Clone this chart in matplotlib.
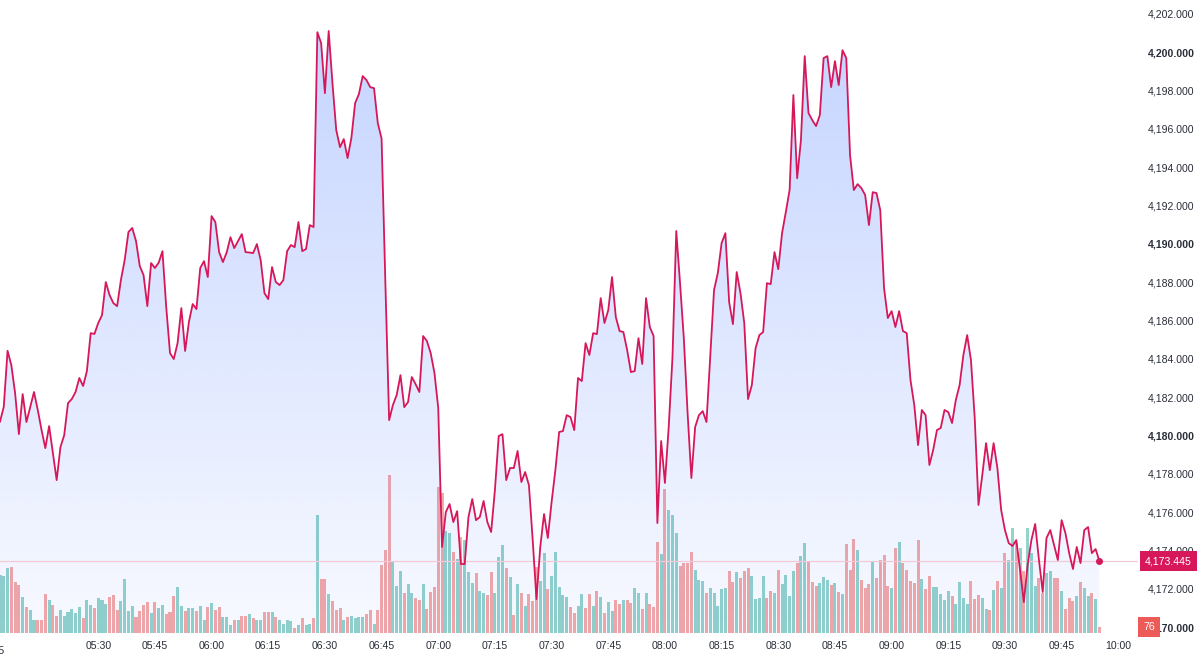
import numpy as np
import matplotlib
matplotlib.use("Agg")
import matplotlib.pyplot as plt
from matplotlib.transforms import blended_transform_factory

# one bar / one price per minute, first one at 05:04
start_minute = 5 * 60 + 4

price = [
    4180.72, 4181.50, 4184.42, 4183.67, 4182.21, 4180.07, 4182.16, 4180.70, 4181.48, 4182.27,
    4181.33, 4180.28, 4179.34, 4180.49, 4179.08, 4177.67, 4179.39, 4180.02, 4181.69, 4181.90,
    4182.27, 4183.00, 4182.58, 4183.36, 4185.34, 4185.30, 4185.87, 4186.28, 4188.01, 4187.33,
    4186.91, 4186.75, 4188.11, 4189.15, 4190.62, 4190.83, 4190.15, 4188.84, 4188.37, 4186.75,
    4189.00, 4188.74, 4189.02, 4189.62, 4186.70, 4184.30, 4183.99, 4184.82, 4186.65, 4184.41,
    4185.92, 4186.86, 4186.60, 4188.74, 4189.10, 4188.27, 4191.45, 4191.14, 4189.57, 4189.05,
    4189.55, 4190.35, 4189.78, 4190.15, 4190.51, 4189.57, 4189.55, 4189.52, 4189.99, 4189.15,
    4187.43, 4187.12, 4188.79, 4188.01, 4187.85, 4188.11, 4189.62, 4189.94, 4189.83, 4191.14,
    4189.62, 4189.73, 4190.98, 4190.88, 4201.05, 4200.48, 4197.87, 4201.11, 4198.39, 4195.94,
    4195.05, 4195.47, 4194.48, 4195.52, 4197.35, 4197.82, 4198.76, 4198.55, 4198.18, 4198.13,
    4196.30, 4195.50, 4188.00, 4180.80, 4181.59, 4182.11, 4183.15, 4181.48, 4181.74, 4183.05,
    4182.68, 4182.27, 4185.19, 4184.93, 4184.30, 4183.26, 4181.43, 4174.18, 4176.00, 4176.42,
    4175.48, 4176.05, 4173.29, 4173.29, 4175.74, 4176.68, 4175.58, 4175.74, 4176.58, 4175.48,
    4174.96, 4177.15, 4179.97, 4180.07, 4177.67, 4178.30, 4178.30, 4179.19, 4177.57, 4178.09,
    4177.41, 4174.54, 4171.46, 4174.18, 4175.90, 4174.65, 4176.52, 4178.19, 4180.18, 4180.23,
    4181.06, 4180.96, 4180.28, 4183.00, 4182.84, 4184.82, 4184.20, 4185.34, 4185.29, 4187.17,
    4185.87, 4186.54, 4188.27, 4186.18, 4185.45, 4185.40, 4184.46, 4183.31, 4183.36, 4185.08,
    4183.73, 4187.17, 4185.66, 4185.19, 4175.43, 4179.71, 4177.52, 4180.44, 4184.09, 4190.67,
    4187.95, 4185.08, 4181.17, 4177.78, 4180.44, 4181.06, 4181.27, 4180.70, 4184.14, 4187.59,
    4188.48, 4190.04, 4190.56, 4186.96, 4185.81, 4188.53, 4187.43, 4185.87, 4181.90, 4182.63,
    4184.56, 4185.24, 4185.40, 4187.95, 4187.90, 4189.57, 4188.68, 4190.56, 4191.66, 4192.81,
    4197.77, 4193.43, 4195.42, 4199.80, 4196.83, 4196.46, 4196.15, 4196.72, 4199.70, 4199.80,
    4198.18, 4199.54, 4198.29, 4200.11, 4199.70, 4194.63, 4192.81, 4193.12, 4192.91, 4192.55,
    4190.98, 4192.70, 4192.65, 4191.76, 4187.69, 4186.13, 4186.49, 4185.66, 4186.49, 4185.45,
    4185.34, 4182.89, 4181.59, 4179.50, 4181.33, 4181.06, 4178.46, 4179.24, 4180.28, 4180.39,
    4181.33, 4181.22, 4180.65, 4181.85, 4182.63, 4184.20, 4185.24, 4183.94, 4180.91, 4176.37,
    4177.93, 4179.60, 4178.19, 4179.60, 4178.30, 4176.11, 4175.06, 4174.38, 4174.23, 4174.54,
    4172.98, 4171.30, 4173.24, 4174.54, 4175.38, 4173.50, 4171.83, 4174.65, 4175.06, 4174.28,
    4173.50, 4175.58, 4174.91, 4173.86, 4173.03, 4174.18, 4173.34, 4175.06, 4175.22, 4173.86,
    4174.07, 4173.445,
]

volume = [
    696, 684, 780, 792, 612, 576, 432, 312, 276, 156,
    156, 156, 468, 396, 336, 204, 276, 204, 252, 288,
    240, 312, 180, 396, 336, 300, 420, 396, 348, 432,
    456, 276, 384, 648, 264, 324, 192, 264, 336, 372,
    240, 372, 300, 336, 228, 252, 444, 552, 324, 264,
    300, 300, 264, 324, 156, 312, 360, 276, 312, 192,
    192, 96, 156, 156, 204, 204, 228, 180, 156, 156,
    252, 252, 252, 192, 156, 108, 156, 144, 60, 96,
    180, 96, 108, 180, 1416, 648, 648, 468, 384, 276,
    300, 156, 192, 204, 180, 192, 192, 228, 276, 108,
    276, 816, 996, 1896, 864, 564, 744, 480, 588, 480,
    420, 396, 588, 288, 492, 552, 1752, 1680, 1224, 1200,
    972, 888, 1152, 1116, 732, 600, 720, 504, 480, 456,
    732, 480, 912, 1056, 780, 672, 216, 588, 480, 324,
    468, 384, 792, 624, 960, 528, 684, 972, 552, 456,
    432, 312, 240, 324, 468, 300, 468, 324, 504, 432,
    240, 372, 264, 396, 348, 396, 396, 360, 540, 480,
    288, 480, 348, 312, 1092, 948, 1728, 1476, 1416, 1200,
    804, 840, 840, 972, 756, 636, 624, 480, 540, 480,
    324, 528, 540, 744, 612, 732, 660, 744, 780, 684,
    408, 420, 684, 420, 504, 480, 756, 588, 696, 444,
    744, 840, 924, 1080, 864, 612, 564, 600, 672, 636,
    576, 600, 492, 468, 1068, 756, 1128, 996, 636, 540,
    588, 864, 660, 876, 936, 564, 540, 1020, 1092, 840,
    756, 624, 600, 1116, 648, 528, 684, 552, 552, 468,
    396, 504, 444, 348, 612, 420, 348, 624, 408, 456,
    420, 288, 276, 516, 624, 540, 960, 876, 1260, 1080,
    1020, 744, 1260, 960, 564, 660, 480, 720, 744, 660,
    660, 504, 288, 420, 384, 444, 612, 540, 444, 480,
    408, 76,
]

# T = up bar (teal), P = down bar (pink)
bar_dir = ("TTTPPPTPTT" "PPPTPPTTTT" "TTPTTPTTTP" "PPTTTTPPPP" "TPTTPPPTTP"
           "TTPTTPTPPT" "TTPTPPTPTT" "PPTPTTTTPT" "PTTPTPPTPP" "PTPTTTTPPT"
           "PPPPTTTPTT" "PPTPPPPPTT" "PTPTTTPTTP" "PTTTPTPTPT" "PPPTTPTTTT"
           "TPPTTPPTPT" "PTTPPTPPTT" "PTPPPTPTTT" "PPPPTTTPTT" "TTTPPTPPPT"
           "TTTPPTPTTT" "TPTTPPPTTT" "PTPTPPPTPP" "PTPPPPTPTP" "PPPPTPPTTT"
           "TTPTTTTPPP" "TTPTPTPTTP" "TPTTTPPTTP" "PTPPPTPTTP" "TP")

time_labels = ["05:30", "05:45", "06:00", "06:15", "06:30", "06:45", "07:00", "07:15",
               "07:30", "07:45", "08:00", "08:15", "08:30", "08:45", "09:00", "09:15",
               "09:30", "09:45", "10:00"]
price_ticks = list(range(4170, 4203, 2))
bold_ticks = [4170, 4180, 4190, 4200]
last_price = 4173.445
last_volume = 76

assert len(price) == len(volume) == len(bar_dir)

LINE = "#d6175a"
UP = "#92d3cb"
DOWN = "#f5a8a6"
TXT = "#2a2e39"
FONT = "Liberation Sans"
plt.rcParams["font.family"] = FONT

W, H = 1200, 658
pane_w, pane_h, axis_h = 1138, 633, 25
px_per_min = 3.778

fig = plt.figure(figsize=(W / 100, H / 100), dpi=100)
rect = [0, axis_h / H, pane_w / W, pane_h / H]
ax_vol = fig.add_axes(rect)
ax = fig.add_axes(rect, sharex=ax_vol)
ax.patch.set_alpha(0)

x = np.arange(len(price))
ylo, yhi = 4169.69, 4202.73

# volume histogram
colors = [UP if d == "T" else DOWN for d in bar_dir]
ax_vol.bar(x, volume, width=0.8, color=colors, linewidth=0)
ax_vol.set_ylim(0, pane_h * 12)
ax_vol.axis("off")

# area fill with vertical gradient
grad = np.zeros((256, 1, 4))
grad[..., 0] = 41 / 255
grad[..., 1] = 98 / 255
grad[..., 2] = 1.0
grad[..., 3] = np.linspace(0.27, 0.035, 256)[:, None]
im = ax.imshow(grad, extent=[x[0], x[-1], ylo, max(price)], origin="upper",
               aspect="auto", zorder=1, interpolation="bilinear")
poly = ax.fill_between(x, price, ylo, facecolor="none", edgecolor="none")
im.set_clip_path(poly.get_paths()[0], transform=ax.transData)

ax.axhline(last_price, color="#f4c9d6", lw=0.9, zorder=2)
ax.plot(x, price, color=LINE, lw=1.3, zorder=3, solid_joinstyle="round")
ax.plot(x[-1], price[-1], "o", ms=4, color=LINE, zorder=4)

ax.set_xlim(0, pane_w / px_per_min)
ax.set_ylim(ylo, yhi)

# time axis
tick_pos = [int(t[:2]) * 60 + int(t[3:]) - start_minute for t in time_labels]
ax.set_xticks(tick_pos)
ax.set_xticklabels(time_labels, fontsize=7.6, color=TXT)
ax.tick_params(axis="x", length=0, pad=6)
trans = blended_transform_factory(ax.transData, ax.transAxes)
ax.text(1.4, -0.0205, "05:15", transform=trans, ha="right", va="top",
        fontsize=7.6, color=TXT)

# price axis
ax.yaxis.tick_right()
ax.set_yticks(price_ticks)
ax.set_yticklabels([f"{p:,.3f}" for p in price_ticks], fontsize=7.6, color=TXT)
for lab, p in zip(ax.get_yticklabels(), price_ticks):
    if p in bold_ticks:
        lab.set_fontweight("bold")
ax.tick_params(axis="y", length=0, pad=7)
for s in ax.spines.values():
    s.set_visible(False)

rtrans = blended_transform_factory(ax.transAxes, ax.transData)
ax.text(1145 / pane_w, last_price, f"{last_price:,.3f}", transform=rtrans,
        ha="left", va="center", fontsize=7.6, color="white", zorder=6,
        bbox=dict(boxstyle="square,pad=0.5", fc=LINE, ec="none"))
ax.text(1143 / pane_w, 4170, str(last_volume), transform=rtrans,
        ha="left", va="center", fontsize=7.6, color="white", zorder=6,
        bbox=dict(boxstyle="square,pad=0.45", fc="#ec5b57", ec="none"))

fig.savefig("out.png", dpi=100)
